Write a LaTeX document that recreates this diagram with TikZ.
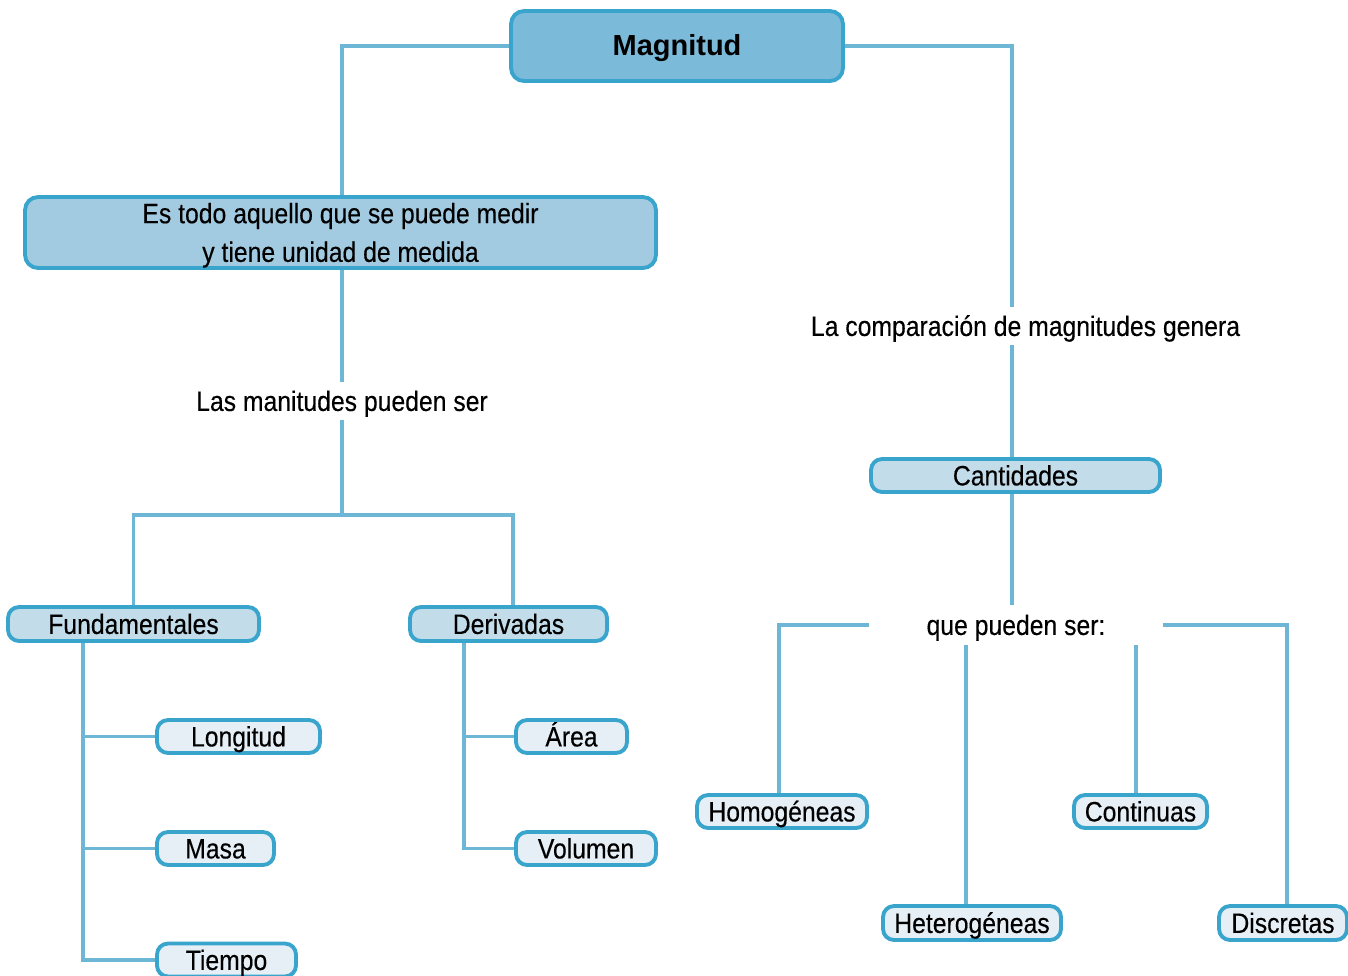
\documentclass[tikz,border=0pt]{standalone}
\usepackage{fontspec}
\setmainfont{Liberation Sans}[FakeStretch=0.88, FakeBold=0.3]
\newfontfamily\titlefont{Liberation Sans}
\definecolor{edge}{HTML}{3AA5CC}
\definecolor{wire}{HTML}{6DB6D6}
\definecolor{tone1}{HTML}{7BBAD8}
\definecolor{tone2}{HTML}{A2CBE1}
\definecolor{tone3}{HTML}{C3DCEA}
\definecolor{tone4}{HTML}{E6EFF6}
\tikzset{
  box/.style = {draw = edge, line width = 2.2pt, rounded corners = 0.22cm,
                inner sep = 0pt, text height = 14pt, text depth = 2.7pt,
                minimum height = 0.66cm},
  label/.style = {inner sep = 0pt, text height = 14pt, text depth = 2.7pt},
  link/.style = {draw = wire, line width = 1.9pt}
}
\begin{document}
\begin{tikzpicture}[x = 0.02cm, y = -0.02cm, font = \fontsize{16}{22}\selectfont]
\useasboundingbox (0,0) rectangle (1348,975);
% top level
\node[box, fill = tone1, minimum width = 6.64cm, minimum height = 1.40cm, rounded corners = 0.26cm,
      font = \titlefont\fontsize{16.5}{20}\selectfont\bfseries] at (677,46) (mag) {Magnitud};
\node[box, fill = tone2, minimum width = 12.62cm, minimum height = 1.42cm, rounded corners = 0.26cm,
      align = center, text height = 36pt, text depth = 2.6pt] at (340.5,232.5) (def)
      {Es todo aquello que se puede medir\\y tiene unidad de medida};
\node[label, minimum width = 8.8cm, minimum height = 0.76cm] at (1025.5,326) (comp) {La comparación de magnitudes genera};
\node[box, fill = tone3, minimum width = 5.78cm] at (1015.5,475.5) (cant) {Cantidades};
\node[label, minimum height = 0.74cm] at (342,401) (las) {Las manitudes pueden ser};
% left branch
\node[box, fill = tone3, minimum width = 5.02cm, minimum height = 0.68cm] at (133.5,624) (fund) {Fundamentales};
\node[box, fill = tone3, minimum width = 3.94cm, minimum height = 0.68cm] at (508.5,624) (der) {Derivadas};
\node[box, fill = tone4, minimum width = 3.26cm] at (238.5,736.5) (long) {Longitud};
\node[box, fill = tone4, minimum width = 2.34cm] at (215.5,848.5) (masa) {Masa};
\node[box, fill = tone4, minimum width = 2.78cm] at (226.5,960) (tiem) {Tiempo};
\node[box, fill = tone4, minimum width = 2.22cm] at (571.5,736.5) (area) {Área};
\node[box, fill = tone4, minimum width = 2.80cm] at (586,848.5) (vol) {Volumen};
% right branch
\node[label, minimum width = 5.88cm, minimum height = 0.80cm] at (1016,625) (que) {que pueden ser:};
\node[box, fill = tone4, minimum width = 3.40cm] at (782,811.5) (homo) {Homogéneas};
\node[box, fill = tone4, minimum width = 2.66cm] at (1140.5,811.5) (cont) {Continuas};
\node[box, fill = tone4, minimum width = 3.56cm, minimum height = 0.68cm] at (972,923) (het) {Heterogéneas};
\node[box, fill = tone4, minimum width = 2.56cm, minimum height = 0.68cm] at (1283,923) (disc) {Discretas};
\coordinate (split) at (342,515);
\coordinate (fb) at (83,0);
\coordinate (db) at (464,0);
\coordinate (cb) at (1012,0);
% connectors
\draw[link] (mag.west) -| (def.north -| split);
\draw[link] (mag.east) -| (cb |- comp.north);
\draw[link] (cb |- comp.south) -- (cb |- cant.north);
\draw[link] (def.south -| split) -- (las.north);
\draw[link] (las.south) -- (split);
\draw[link] (fund.north) |- (split) -| ([xshift = 2.5pt]der.north);
\draw[link] (fb |- fund.south) |- (tiem.west);
\draw[link] (fb |- long.west) -- (long.west);
\draw[link] (fb |- masa.west) -- (masa.west);
\draw[link] (db |- der.south) |- (vol.west);
\draw[link] (db |- area.west) -- (area.west);
\draw[link] (cb |- cant.south) -- (cb |- que.north);
\draw[link] (que.west) -| ([xshift = -1.7pt]homo.north);
\draw[link] ([xshift = -3.4pt]que.south -| het.north) -- ([xshift = -3.4pt]het.north);
\draw[link] ([xshift = -2.5pt]que.south -| cont.north) -- ([xshift = -2.5pt]cont.north);
\draw[link] (que.east) -| ([xshift = 2.3pt]disc.north);
\end{tikzpicture}
\end{document}
